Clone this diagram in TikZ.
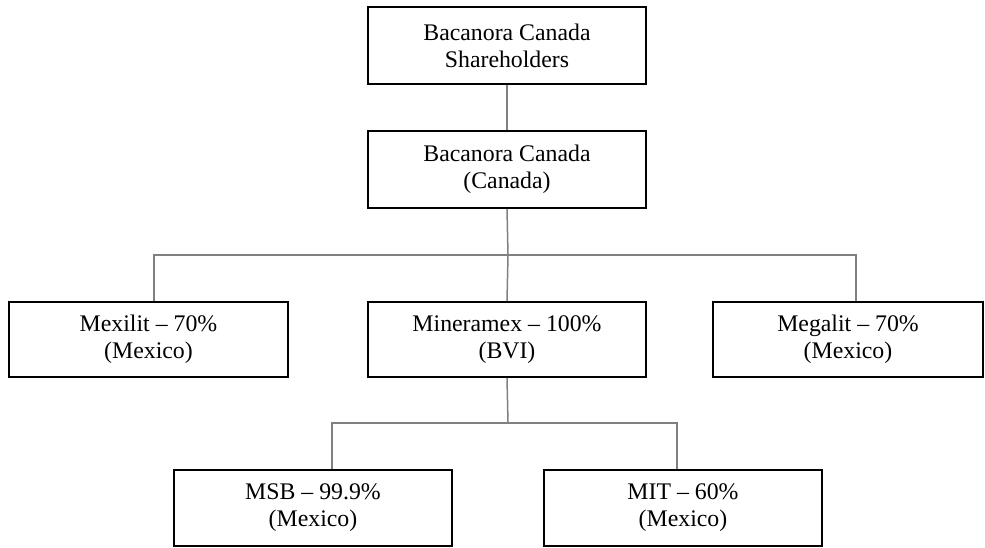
\documentclass[tikz,border=0pt]{standalone}
\usepackage{fontspec}
\setmainfont{Liberation Serif}
\begin{document}
\begin{tikzpicture}[x=1bp,y=-1bp,
  box/.style={draw=black, line width=1.8bp, rectangle, align=center, inner sep=0pt,
    font=\fontsize{23.8bp}{27bp}\selectfont},
  conn/.style={draw=black!50, line width=1.5bp}]
\useasboundingbox (0,0) rectangle (985,548);
\node[box, minimum width=278bp, minimum height=77bp] (sh) at (507,45.5) {Bacanora Canada\\Shareholders};
\node[box, minimum width=278bp, minimum height=77bp] (bc) at (507,169.5) {Bacanora Canada\\(Canada)};
\node[box, minimum width=279bp, minimum height=75bp] (mexilit) at (148.5,339.5) {Mexilit -- 70\%\\(Mexico)};
\node[box, minimum width=278bp, minimum height=75bp] (mineramex) at (507,339.5) {Mineramex -- 100\%\\(BVI)};
\node[box, minimum width=270bp, minimum height=75bp] (megalit) at (848,339.5) {Megalit -- 70\%\\(Mexico)};
\node[box, minimum width=278bp, minimum height=76bp] (msb) at (313,508) {MSB -- 99.9\%\\(Mexico)};
\node[box, minimum width=278bp, minimum height=76bp] (mit) at (683,508) {MIT -- 60\%\\(Mexico)};
\coordinate (j1) at (508,255);
\coordinate (j2) at (508,423);
\draw[conn] (sh.south) -- (bc.north);
\draw[conn] (bc.south) -- (j1);
\draw[conn] ([xshift=5.5bp]mexilit.north) |- (j1) -| ([xshift=8bp]megalit.north);
\draw[conn] (j1) -- (mineramex.north);
\draw[conn] (mineramex.south) -- (j2);
\draw[conn] ([xshift=19bp]msb.north) |- (j2) -| ([xshift=-6bp]mit.north);
\end{tikzpicture}
\end{document}
